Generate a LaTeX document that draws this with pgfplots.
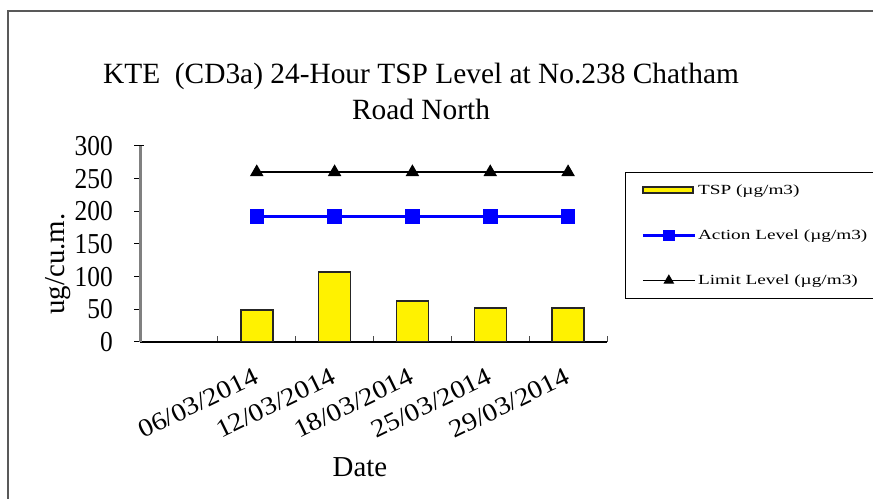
\documentclass[border=0pt]{standalone}
\usepackage{fontspec}
\setmainfont{Liberation Serif}
\newfontfamily\condfont{Liberation Serif}[FakeStretch=0.88]
\newfontfamily\widefont{Liberation Serif}[FakeStretch=1.38]
\newfontfamily\xfont{Liberation Serif}[FakeStretch=1.12]
\usepackage{pgfplots}
\pgfplotsset{compat=1.18}
\begin{document}
\begin{tikzpicture}[x=1bp,y=1bp]
\useasboundingbox (0,0) rectangle (873,499);
\draw[line width=2bp, black!65] (7.5,-5) -- (7.5,488) -- (880,488);
\begin{axis}[
  at={(140bp,157bp)}, anchor=south west,
  scale only axis, width=467bp, height=196bp,
  xmin=-0.5, xmax=5.5, ymin=0, ymax=300,
  axis x line*=bottom, axis y line*=left,
  tick align=outside,
  major tick length=6bp,
  x axis line style={black, line width=1.3bp},
  y axis line style={black!50, line width=3bp},
  xtick={-0.5,0.5,...,5.5},
  xticklabels={{},06/03/2014,12/03/2014,18/03/2014,25/03/2014,29/03/2014,{}},
  xtick style={black!70, line width=1bp, yshift=6bp},
  ytick={0,50,...,300},
  ytick style={black, line width=1bp, shorten >=-4bp},
  /pgf/number format/assume math mode=true,
  yticklabel style={font=\condfont\fontsize{29}{29}\selectfont, inner sep=0pt, xshift=-21bp},
  xticklabel style={font=\xfont\fontsize{25.5}{25.5}\selectfont, rotate=26, anchor=north east, inner sep=0pt, yshift=-32bp, xshift=23bp},
  title={KTE\ \ (CD3a) 24-Hour TSP Level at No.238 Chatham\\Road North},
  title style={at={(axis description cs:0.6017,1.248)}, anchor=center, align=center, font=\fontsize{29.5}{36}\selectfont, inner sep=0pt},
  xlabel={Date},
  xlabel style={at={(axis description cs:0.471,-0.638)}, anchor=center, font=\fontsize{29}{29}\selectfont, inner sep=0pt},
  ylabel={ug/cu.m.},
  ylabel style={at={(axis description cs:-0.1756,0.398)}, anchor=center, rotate=0, font=\fontsize{29}{29}\selectfont, inner sep=0pt},
  legend cell align=left,
  legend style={at={(1.0385,0.867)}, anchor=north west, draw=black, line width=1.2bp,
    font=\widefont\fontsize{14}{15}\selectfont, row sep=30bp, inner xsep=4bp, inner ysep=10bp},
]
\addplot[ybar, bar width=32bp, fill=yellow, draw=black!85, line width=1.5bp,
  legend image code/.code={\path (0bp,0bp); \draw[fill=yellow, draw=black!85, line width=1.5bp] (12bp,-3bp) rectangle (62bp,3bp);}]
  coordinates {(1,49) (2,107) (3,63) (4,52) (5,52)};
\addlegendentry{TSP (µg/m3)}
\addplot[blue, line width=2.5bp, mark=square*, mark size=6bp, mark options={solid},
  legend image code/.code={\path (0bp,0bp); \draw[blue, line width=2.5bp, mark=square*, mark size=4.5bp, mark repeat=2, mark phase=2] plot coordinates {(12bp,0bp) (38bp,0bp) (64bp,0bp)};}]
  coordinates {(1,192) (2,192) (3,192) (4,192) (5,192)};
\addlegendentry{Action Level (µg/m3)}
\addplot[black, line width=1.3bp, mark=triangle*, mark size=6.5bp, mark options={solid},
  legend image code/.code={\path (0bp,0bp); \draw[black, line width=1.3bp, mark=triangle*, mark size=5bp, mark repeat=2, mark phase=2] plot coordinates {(12bp,0bp) (38bp,0bp) (64bp,0bp)};}]
  coordinates {(1,260) (2,260) (3,260) (4,260) (5,260)};
\addlegendentry{Limit Level (µg/m3)}
\end{axis}
\end{tikzpicture}
\end{document}
